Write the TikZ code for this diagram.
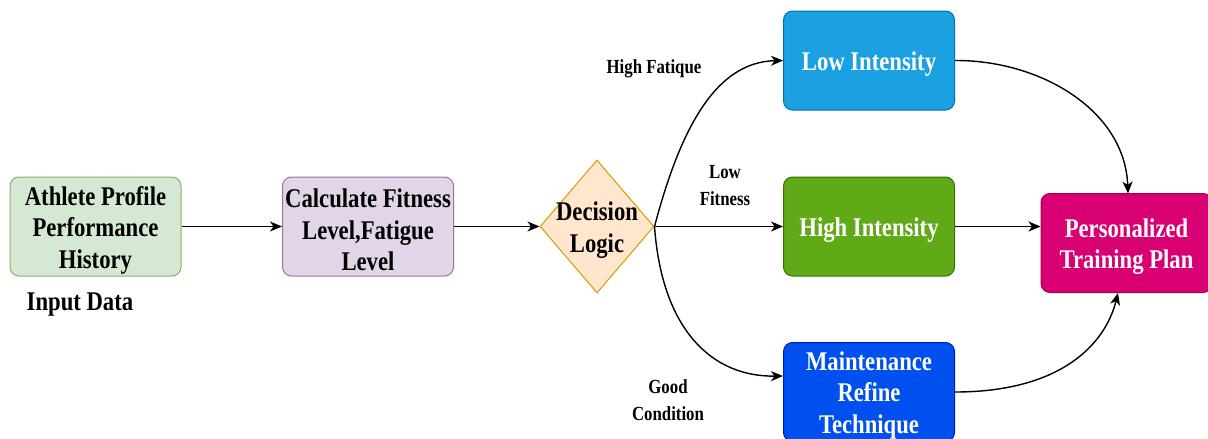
\documentclass[tikz,border=0pt]{standalone}
\usepackage{fontspec}
\setmainfont{Liberation Serif}[FakeStretch=0.84]
\usetikzlibrary{shapes.geometric,arrows.meta}
\definecolor{gfill}{HTML}{D5E8D4}\definecolor{gdraw}{HTML}{82B366}
\definecolor{pfill}{HTML}{E1D5E7}\definecolor{pdraw}{HTML}{9673A6}
\definecolor{ofill}{HTML}{FFE6CC}\definecolor{odraw}{HTML}{D79B00}
\definecolor{lbfill}{HTML}{1BA1E2}\definecolor{lbdraw}{HTML}{006EAF}
\definecolor{hgfill}{HTML}{60A917}\definecolor{hgdraw}{HTML}{2D7600}
\definecolor{mbfill}{HTML}{0050EF}\definecolor{mbdraw}{HTML}{001DBC}
\definecolor{pkfill}{HTML}{D80073}\definecolor{pkdraw}{HTML}{A50040}
\tikzset{
  box/.style={rectangle, rounded corners=9pt, draw, line width=1pt,
    minimum width=171pt, minimum height=99pt, inner sep=0pt},
  btext/.style={align=center, inner sep=1pt, yshift=-3.5pt,
    font=\bfseries\fontsize{27}{31.5}\selectfont},
  dia/.style={diamond, draw=odraw, fill=ofill, line width=1pt,
    minimum width=114pt, minimum height=133pt, inner sep=0pt},
  lbl/.style={align=center, font=\bfseries\fontsize{20}{27}\selectfont},
  arr/.style={line width=1.4pt, -{Stealth[length=12pt,width=10pt,inset=3.5pt]}}
}
\begin{document}
\begin{tikzpicture}[x=1pt,y=-1pt]
\useasboundingbox (0,0) rectangle (1208,439);
\node[box, fill=gfill, draw=gdraw] (ath) at (95.5,226.5) {};
\node[btext] (atht) at (ath.center) {Athlete Profile\\Performance\\History};
\node[box, fill=pfill, draw=pdraw] (calc) at (368,226.5) {};
\node[btext] (calct) at (calc.center) {Calculate Fitness\\Level,Fatigue\\Level};
\node[dia] (dec) at (597,226.5) {};
\node[btext, font=\bfseries\fontsize{27}{32}\selectfont] (dect) at (dec.center) {Decision\\Logic};
\node[box, fill=lbfill, draw=lbdraw] (low) at (869,60.5) {};
\node[btext, text=white] (lowt) at (low.center) {Low Intensity};
\node[box, fill=hgfill, draw=hgdraw] (high) at (869,226.5) {};
\node[btext, text=white] (hight) at (high.center) {High Intensity};
\node[box, fill=mbfill, draw=mbdraw] (main) at (869,392) {};
\node[btext, text=white] (maint) at (main.center) {Maintenance\\Refine\\Technique};
\node[box, fill=pkfill, draw=pkdraw] (pers) at (1126.5,243) {};
\node[btext, text=white] (perst) at (pers.center) {Personalized\\Training Plan};
\node[btext] (inp) at (80,301) {Input Data};
\node[lbl] (lf) at (654,69) {High Fatique};
\node[lbl] (lfit) at (725,185.5) {Low\\Fitness};
\node[lbl] (gc) at (668,400) {Good\\Condition};
\coordinate (mainin) at (783,376);
\coordinate (pin) at (high.east -| pers.west);
\coordinate (ptop) at (1128,193.5);
\coordinate (pbot) at (1118,293);
\draw[arr] (ath.east) -- (calc.west);
\draw[arr] (calc.east) -- (dec.west);
\draw[arr] (dec.east) -- (high.west);
\draw[arr] (dec.east) .. controls (680,130) and (715,62) .. (low.west);
\draw[arr] (dec.east) .. controls (662,330) and (712,377) .. (mainin);
\draw[arr] (high.east) -- (pin);
\draw[arr] (low.east) .. controls (1040,60) and (1125,110) .. (ptop);
\draw[arr] (main.east) .. controls (1060,392) and (1105,345) .. (pbot);
\end{tikzpicture}
\end{document}
